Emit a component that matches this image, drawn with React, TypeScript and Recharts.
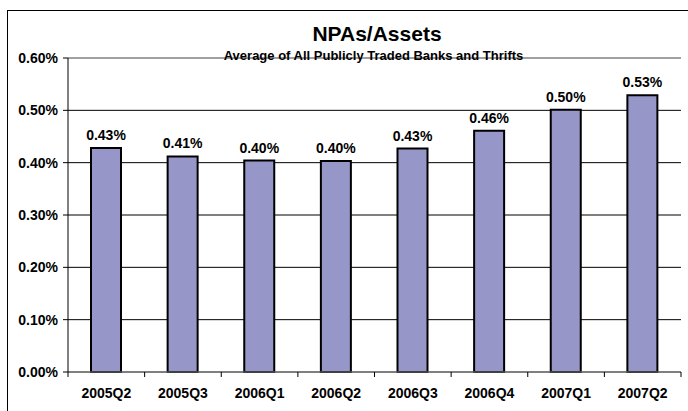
import { BarChart, Bar, XAxis, YAxis, CartesianGrid, LabelList, ReferenceLine } from 'recharts';

const quarters = ['2005Q2', '2005Q3', '2006Q1', '2006Q2', '2006Q3', '2006Q4', '2007Q1', '2007Q2'];
const npaRatio = [0.428, 0.412, 0.404, 0.403, 0.427, 0.461, 0.501, 0.529];
const yTicks = [0, 0.1, 0.2, 0.3, 0.4, 0.5, 0.6];

const data = quarters.map((q, i) => ({ quarter: q, value: npaRatio[i] }));

const FONT = '"Liberation Sans", Arial, sans-serif';
const W = 688;
const H = 411;
const margin = { top: 58, right: 7, bottom: 0, left: 0 };
const Y_AXIS_W = 68;
const X_AXIS_H = 39;
const bandWidth = (W - Y_AXIS_W - margin.right) / quarters.length;

// excel style: tick marks sit between categories, label in the middle
const QuarterTick = (props: any) => {
  const { x, y, payload, index } = props;
  const left = x - bandWidth / 2;
  return (
    <g>
      <line x1={left} y1={y} x2={left} y2={y + 5} stroke="#000" />
      {index === quarters.length - 1 && (
        <line x1={x + bandWidth / 2} y1={y} x2={x + bandWidth / 2} y2={y + 5} stroke="#000" />
      )}
      <text x={x} y={y + 26} textAnchor="middle" fontSize={14} fontWeight="bold" fill="#000" fontFamily={FONT}>
        {payload.value}
      </text>
    </g>
  );
};

const App = () => {
  return (
    <div style={{ position: 'absolute', left: 0, top: 0, width: W, height: H, background: '#fff', fontFamily: FONT }}>
      <div style={{ position: 'absolute', left: 7, top: 10, width: W, height: H, borderLeft: '1px solid #000', borderTop: '1px solid #000' }} />
      <BarChart width={W} height={H} data={data} margin={margin} style={{ position: 'absolute', left: 0, top: 0 }}>
        <CartesianGrid vertical={false} stroke="#000" strokeOpacity={1} />
        <XAxis
          dataKey="quarter"
          axisLine={{ stroke: '#808080' }}
          tickLine={false}
          tickSize={0}
          tickMargin={0}
          interval={0}
          tick={<QuarterTick />}
          height={X_AXIS_H}
        />
        <YAxis
          width={Y_AXIS_W}
          domain={[0, 0.6]}
          ticks={yTicks}
          interval={0}
          tickFormatter={(v: number) => `${v.toFixed(2)}%`}
          axisLine={{ stroke: '#000' }}
          tickLine={{ stroke: '#000' }}
          tickSize={5}
          tickMargin={5}
          tick={{ fill: '#000', fontSize: 14, fontWeight: 'bold', fontFamily: FONT }}
        />
        <YAxis
          yAxisId="right"
          orientation="right"
          width={0}
          domain={[0, 0.6]}
          tick={false}
          tickLine={false}
          axisLine={{ stroke: '#a0a0a0', strokeWidth: 2 }}
        />
        <ReferenceLine y={0.6} stroke="#a0a0a0" strokeWidth={2} />
        <Bar dataKey="value" fill="#9696c9" stroke="#000" strokeWidth={2} barSize={30} isAnimationActive={false}>
          <LabelList
            dataKey="value"
            position="top"
            offset={8}
            formatter={(v: any) => `${Number(v).toFixed(2)}%`}
            style={{ fill: '#000', fontSize: 14, fontWeight: 'bold', fontFamily: FONT }}
          />
        </Bar>
      </BarChart>
      <svg width={W} height={H} style={{ position: 'absolute', left: 0, top: 0, pointerEvents: 'none' }}>
        <text x={377} y={41} textAnchor="middle" fontSize={21} fontWeight="bold" fill="#000" fontFamily={FONT}>
          NPAs/Assets
        </text>
        <text x={373.5} y={60} textAnchor="middle" fontSize={13} fontWeight="bold" fill="#000" fontFamily={FONT}>
          Average of All Publicly Traded Banks and Thrifts
        </text>
      </svg>
    </div>
  );
};

export default App;
